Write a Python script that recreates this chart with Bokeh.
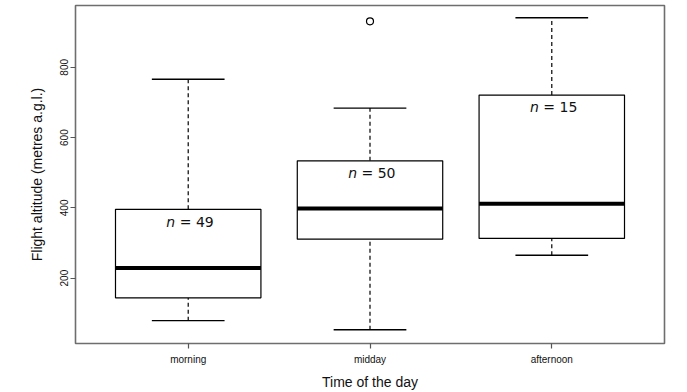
from bokeh.plotting import figure
from bokeh.models import Range1d, FixedTicker, ColumnDataSource
from bokeh.core.properties import value
from bokeh.embed import file_html
from bokeh.resources import INLINE

# ---- data ----
categories = ["morning", "midday", "afternoon"]
x_pos = [1, 2, 3]
lower_whisker = [79, 53, 265]
q1 = [144, 311, 313]
median = [229, 398, 412]
q3 = [396, 534, 721]
upper_whisker = [766, 684, 941]
outlier_x = [2]
outlier_y = [931]
n_counts = [49, 50, 15]
n_label_y = [359, 500, 687]
y_ticks = [200, 400, 600, 800]

BOX_W = 0.8
CAP_W = 0.4

p = figure(width=687, height=392, output_backend="svg", toolbar_location=None,
           x_range=Range1d(0.38, 3.62), y_range=Range1d(14, 976),
           min_border_left=75, min_border_right=23, min_border_top=5,
           min_border_bottom=47)
p.background_fill_color = "white"
p.border_fill_color = "white"
p.outline_line_color = "#6e6e6e"
p.outline_line_width = 1.6
p.grid.visible = False

src = ColumnDataSource(dict(
    x=x_pos,
    left=[x - BOX_W / 2 for x in x_pos], right=[x + BOX_W / 2 for x in x_pos],
    cl=[x - CAP_W / 2 for x in x_pos], cr=[x + CAP_W / 2 for x in x_pos],
    lw=lower_whisker, q1=q1, med=median, q3=q3, uw=upper_whisker,
    ny=n_label_y, nt=["= %d" % n for n in n_counts], nn=["n"] * len(n_counts),
))

# whiskers (dashed)
p.segment(x0="x", y0="q3", x1="x", y1="uw", source=src, line_color="black",
          line_width=1.2, line_dash="4 3")
p.segment(x0="x", y0="lw", x1="x", y1="q1", source=src, line_color="black",
          line_width=1.2, line_dash="4 3")
# caps
p.segment(x0="cl", y0="uw", x1="cr", y1="uw", source=src, line_color="black", line_width=1.4)
p.segment(x0="cl", y0="lw", x1="cr", y1="lw", source=src, line_color="black", line_width=1.4)
# boxes
p.quad(left="left", right="right", bottom="q1", top="q3", source=src,
       fill_color="white", line_color="black", line_width=1.2)
# medians
p.segment(x0="left", y0="med", x1="right", y1="med", source=src, line_color="black",
          line_width=4)
# outlier
p.scatter(outlier_x, outlier_y, marker="circle", size=7, fill_color=None,
          line_color="black", line_width=1.2)

# n labels
p.text(x="x", y="ny", text="nn", source=src, text_font=value("DejaVu Sans"),
       text_font_style="italic", text_font_size="14px", text_align="right",
       text_baseline="middle", x_offset=-13, text_color="#111111")
p.text(x="x", y="ny", text="nt", source=src, text_font=value("DejaVu Sans"),
       text_font_size="14px", text_align="left", text_baseline="middle",
       x_offset=-8.5, text_color="#111111")

# axes
p.xaxis.ticker = FixedTicker(ticks=x_pos)
p.xaxis.major_label_overrides = {x: c for x, c in zip(x_pos, categories)}
p.yaxis.ticker = FixedTicker(ticks=y_ticks)
p.yaxis.major_label_orientation = "vertical"

for ax in (p.xaxis[0], p.yaxis[0]):
    ax.axis_line_color = None
    ax.major_tick_line_color = "#555555"
    ax.major_tick_line_width = 1.2
    ax.major_tick_out = 5
    ax.major_tick_in = 0
    ax.minor_tick_line_color = None
    ax.major_label_text_font = "Liberation Sans"
    ax.major_label_text_font_size = "10px"
    ax.major_label_text_color = "#111111"
    ax.axis_label_text_font = "Liberation Sans"
    ax.axis_label_text_font_size = "14px"
    ax.axis_label_text_font_style = "normal"
    ax.axis_label_text_color = "#111111"

p.xaxis.major_label_standoff = 5
p.yaxis.major_label_standoff = 2
p.xaxis.axis_label = "Time of the day"
p.yaxis.axis_label = "Flight altitude (metres a.g.l.)"
p.xaxis.axis_label_standoff = 6
p.yaxis.axis_label_standoff = 13

open("out.html", "w").write(file_html(p, INLINE))
